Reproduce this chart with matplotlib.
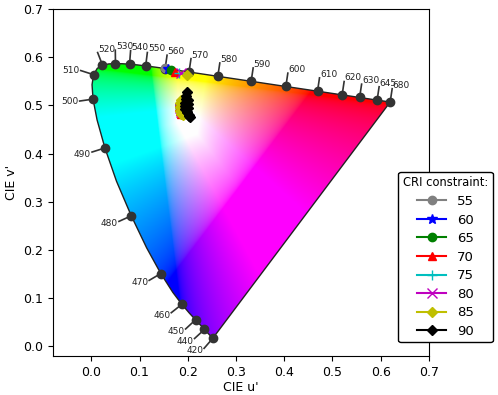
import numpy as np
import matplotlib
matplotlib.use("Agg")
import matplotlib.pyplot as plt
from matplotlib.path import Path
from matplotlib.patches import PathPatch
from matplotlib.lines import Line2D

# ---- CIE 1931 2deg spectral locus (x, y) 420..680 nm step 5 ----
locus_nm = list(range(420, 685, 5))
locus_x = [0.1714, 0.1703, 0.1689, 0.1669, 0.1644, 0.1611, 0.1566, 0.1510, 0.1440, 0.1355,
           0.1241, 0.1096, 0.0913, 0.0687, 0.0454, 0.0235, 0.0082, 0.0039, 0.0139, 0.0389,
           0.0743, 0.1142, 0.1547, 0.1929, 0.2296, 0.2658, 0.3016, 0.3373, 0.3731, 0.4087,
           0.4441, 0.4788, 0.5125, 0.5448, 0.5752, 0.6029, 0.6270, 0.6482, 0.6658, 0.6801,
           0.6915, 0.7006, 0.7079, 0.7140, 0.7190, 0.7230, 0.7260, 0.7283, 0.7300, 0.7311,
           0.7320, 0.7327, 0.7334]
locus_y = [0.0051, 0.0058, 0.0069, 0.0086, 0.0109, 0.0138, 0.0177, 0.0227, 0.0297, 0.0399,
           0.0578, 0.0868, 0.1327, 0.2007, 0.2950, 0.4127, 0.5384, 0.6548, 0.7502, 0.8120,
           0.8338, 0.8262, 0.8059, 0.7816, 0.7543, 0.7243, 0.6923, 0.6589, 0.6245, 0.5896,
           0.5547, 0.5202, 0.4866, 0.4544, 0.4242, 0.3965, 0.3725, 0.3514, 0.3340, 0.3197,
           0.3083, 0.2993, 0.2920, 0.2859, 0.2809, 0.2770, 0.2740, 0.2717, 0.2700, 0.2689,
           0.2680, 0.2673, 0.2666]

# labelled wavelengths
mark_nm = [420, 440, 450, 460, 470, 480, 490, 500, 510, 520, 530, 540, 550, 560,
           570, 580, 590, 600, 610, 620, 630, 645, 680]

# ---- CRI constraint series (u', v') ----
cri_labels = ["55", "60", "65", "70", "75", "80", "85", "90"]
cri_colors = ["gray", "b", "g", "r", "c", "m", "y", "k"]
cri_markers = ["o", "*", "o", "^", "+", "x", "D", "D"]
# points near the spectral locus
edge_u = [0.153, 0.159, 0.165, 0.173, 0.181, 0.186, 0.198, None]
edge_v = [0.577, 0.575, 0.574, 0.570, 0.568, 0.567, 0.564, None]
# points in the white-region cluster
clus_u = {
    "55": [0.183, 0.184],
    "60": [0.184, 0.185],
    "65": [0.183, 0.185],
    "70": [0.181, 0.182, 0.184, 0.186],
    "75": [0.184, 0.186],
    "80": [0.184, 0.186],
    "85": [0.186, 0.184, 0.183, 0.184, 0.187, 0.190],
    "90": [0.198, 0.197, 0.196, 0.195, 0.194, 0.195, 0.199, 0.203, 0.205,
           0.202, 0.199, 0.200, 0.201, 0.200],
}
clus_v = {
    "55": [0.500, 0.492],
    "60": [0.498, 0.490],
    "65": [0.496, 0.488],
    "70": [0.505, 0.497, 0.488, 0.482],
    "75": [0.494, 0.486],
    "80": [0.495, 0.487],
    "85": [0.512, 0.505, 0.497, 0.489, 0.483, 0.480],
    "90": [0.527, 0.520, 0.513, 0.506, 0.499, 0.492, 0.486, 0.481, 0.476,
           0.479, 0.487, 0.495, 0.503, 0.511],
}


def xy_to_uv(x, y):
    x = np.asarray(x, float)
    y = np.asarray(y, float)
    d = -2 * x + 12 * y + 3
    return 4 * x / d, 9 * y / d


lu, lv = xy_to_uv(locus_x, locus_y)

fig = plt.figure(figsize=(4.98, 3.95), dpi=100)
ax = fig.add_axes([0.106, 0.099, 0.755, 0.878])
ax.set_xlim(-0.08, 0.7)
ax.set_ylim(-0.02, 0.7)

# ---- colour fill: u'v' -> XYZ -> linear sRGB, clipped, normalised ----
M = np.array([[3.2406, -1.5372, -0.4986],
              [-0.9689, 1.8758, 0.0415],
              [0.0557, -0.2040, 1.0570]])
gu = np.linspace(-0.08, 0.7, 700)
gv = np.linspace(-0.02, 0.7, 650)
U, V = np.meshgrid(gu, gv)
with np.errstate(divide="ignore", invalid="ignore"):
    X = 9 * U / (4 * V)
    Z = (12 - 3 * U - 20 * V) / (4 * V)
XYZ = np.stack([X, np.ones_like(U), Z], -1)
lin = np.nan_to_num(XYZ @ M.T, nan=0.0, posinf=0.0, neginf=0.0)
lin = np.clip(lin, 0, None)
mx = lin.max(-1, keepdims=True)
mx[mx == 0] = 1
lin = np.clip(1.6 * lin / mx, 0, 1)
img = np.where(lin <= 0.0031308, 12.92 * lin, 1.055 * lin ** (1 / 2.4) - 0.055)
img = np.clip(img, 0, 1)

poly = np.column_stack([np.r_[lu, lu[0]], np.r_[lv, lv[0]]])
patch = PathPatch(Path(poly), facecolor="none", edgecolor="none", transform=ax.transData)
ax.add_patch(patch)
im = ax.imshow(img, origin="lower", extent=(-0.08, 0.7, -0.02, 0.7),
               aspect="auto", interpolation="bilinear", zorder=1)
im.set_clip_path(patch)
ax.plot(poly[:, 0], poly[:, 1], color="#222222", lw=1.0, zorder=2)

# ---- wavelength marks ----
lu_a = np.asarray(lu)
lv_a = np.asarray(lv)
for nm in mark_nm:
    i = locus_nm.index(nm)
    u0, v0 = lu_a[i], lv_a[i]
    i0 = max(i - 1, 0)
    i1 = min(i + 1, len(locus_nm) - 1)
    du = lu_a[i1] - lu_a[i0]
    dv = lv_a[i1] - lv_a[i0]
    n = np.array([dv, -du])
    n = n / np.hypot(*n)
    c = np.array([0.22, 0.35])
    if np.dot(n, np.array([u0, v0]) - c) < 0:
        n = -n
    L = 0.028
    u1, v1 = u0 + n[0] * L, v0 + n[1] * L
    ax.plot([u0, u1], [v0, v1], color="#333333", lw=1.2, zorder=3)
    ax.plot(u0, v0, "o", color="#333333", ms=6, zorder=4)
    if n[1] > 0.6:
        ha, va = "left", "bottom"
        tx, ty = u1 + 0.001, v1 - 0.002
    elif n[1] > -0.25:
        ha, va = "right", "center"
        tx, ty = u1 - 0.003, v1
    else:
        ha, va = "right", "top"
        tx, ty = u1 - 0.002, v1 + 0.004
    ax.text(tx, ty, str(nm), fontsize=6.5, ha=ha, va=va, color="#222222", zorder=5)

# ---- CRI series ----
handles = []
for k, lab in enumerate(cri_labels):
    col = cri_colors[k]
    mk = cri_markers[k]
    ms = 6 if mk in ("o", "^") else 7
    if mk == "D":
        ms = 5
    if edge_u[k] is not None:
        ax.plot(edge_u[k], edge_v[k], mk, color=col, ms=ms, zorder=6)
    ax.plot(clus_u[lab], clus_v[lab], "-", marker=mk, color=col, ms=ms, zorder=6 + k * 0.1)
    handles.append(Line2D([], [], color=col, marker=mk, ms=ms, lw=1.5, label=lab))

ax.set_xticks(np.arange(0, 0.71, 0.1))
ax.set_yticks(np.arange(0, 0.71, 0.1))
ax.tick_params(labelsize=9)
ax.set_xlabel("CIE u'", fontsize=9, labelpad=2)
ax.set_ylabel("CIE v'", fontsize=9)

leg = fig.legend(handles=handles, title="CRI constraint:", loc="upper left",
                 bbox_to_anchor=(0.800, 0.565), fontsize=9.5, title_fontsize=8.3,
                 framealpha=1, edgecolor="black", borderpad=0.35, labelspacing=0.42,
                 handlelength=2.2, borderaxespad=0)
leg.get_frame().set_linewidth(1.0)

fig.savefig("out.png", dpi=100)
